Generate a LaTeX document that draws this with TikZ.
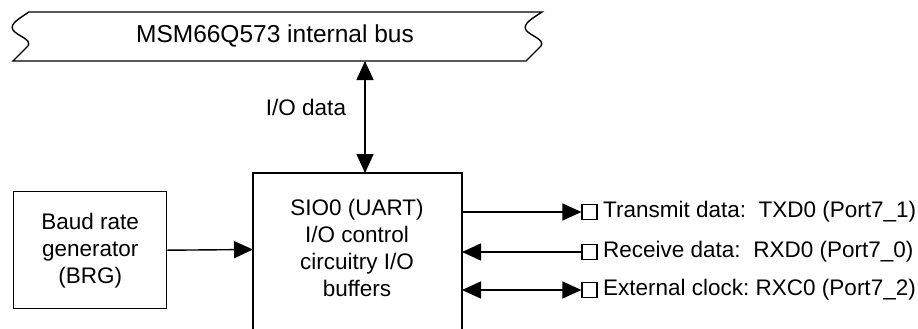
\documentclass[tikz,border=0pt]{standalone}
\usepackage{fontspec}
\setmainfont{Liberation Sans}
\usetikzlibrary{arrows.meta}
\tikzset{
  ln/.style={line width=1.4pt},
  arr/.style={ln,-{Triangle[length=19pt,width=17pt]}},
  darr/.style={ln,{Triangle[length=19pt,width=17pt]}-{Triangle[length=19pt,width=17pt]}},
  txt/.style={font=\fontsize{22.5}{27}\selectfont,align=center,inner sep=0pt},
  pin/.style={draw,line width=1.2pt,minimum size=15pt,inner sep=0pt,fill=white},
  lbl/.style={font=\fontsize{22.5}{27}\selectfont,anchor=west,inner sep=0pt}
}
\begin{document}
\begin{tikzpicture}[x=1pt,y=-1pt]
\useasboundingbox (0,0) rectangle (918,329);
% bus
\draw[ln,fill=white] (29,12) -- (542,12)
  .. controls (533,18) and (522,24) .. (526,30)
  .. controls (530,36) and (545,39) .. (541,46)
  -- (526,61) -- (13,61) -- (28,46)
  .. controls (32,39) and (17,36) .. (13,30)
  .. controls (9,24) and (20,18) .. (29,12) -- cycle;
\node[txt,font=\fontsize{24.5}{29}\selectfont] (bus) at (275,36) {MSM66Q573 internal bus};
\coordinate (busb) at (365,61);
% main box
\draw[ln] (253,329) -- (253,173) -- (462,173) -- (462,329);
\coordinate (siot) at (365,173);
\node[txt] (sio) at (357,248) {SIO0 (UART)\\I/O control\\circuitry I/O\\buffers};
\draw[darr] (busb) -- (siot);
\node[txt] (iod) at (306,107) {I/O data};
% BRG
\node[draw,ln,txt,minimum width=153pt,minimum height=117pt,anchor=north west] (brg) at (13,191) {Baud rate\\generator\\(BRG)};
\coordinate (sioin) at (253,249.5);
\draw[arr] (brg.east) -- (sioin);
% pins
\node[pin] (p1) at (589.5,212) {};
\node[pin] (p2) at (589.5,252) {};
\node[pin] (p3) at (589.5,290) {};
\coordinate (s1) at (462,212);
\coordinate (s2) at (462,252);
\coordinate (s3) at (462,290);
\draw[arr] (s1) -- (p1.west);
\draw[arr] (p2.west) -- (s2);
\draw[darr] (s3) -- (p3.west);
\node[lbl] (l1) at (603,212) {Transmit data:\ \ TXD0 (Port7\_1)};
\node[lbl] (l2) at (603,252) {Receive data:\ \ RXD0 (Port7\_0)};
\node[lbl] (l3) at (603,290) {External clock:\ RXC0 (Port7\_2)};
\end{tikzpicture}
\end{document}
